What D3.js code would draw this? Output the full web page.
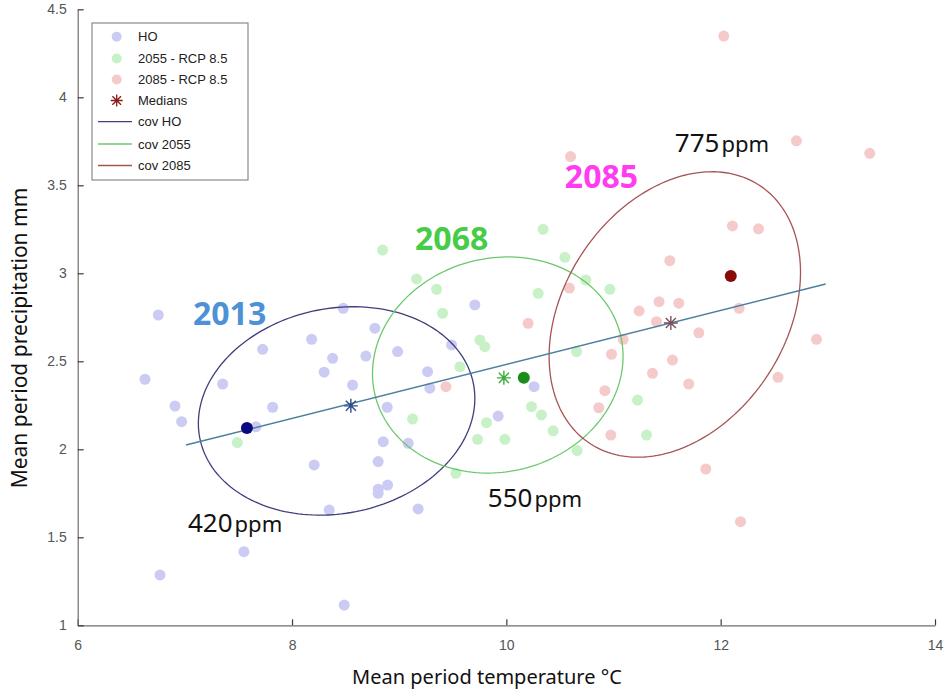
<!DOCTYPE html>
<html><head><meta charset="utf-8">
<script src="https://cdn.jsdelivr.net/npm/d3@7"></script>
<style>body{margin:0;background:#fff}svg{display:block}</style>
</head><body>
<svg id="c" width="949" height="691"></svg>
<script>
// ---------- data ----------
const xTicks = [6, 8, 10, 12, 14];
const yTicks = [1, 1.5, 2, 2.5, 3, 3.5, 4, 4.5];
const seriesNames = ["HO", "2055 - RCP 8.5", "2085 - RCP 8.5"];

const hoX = [6.752,8.478,9.706,8.183,7.726,8.379,8.689,8.985,9.489,6.628,7.353,8.300,8.565,9.265,9.286,6.908,7.819,6.970,7.663,8.888,8.851,9.084,8.207,8.804,8.804,8.892,8.804,8.347,9.177,7.551,6.768,8.487,8.773,10.259,9.924];
const hoY = [2.763,2.801,2.820,2.625,2.568,2.517,2.530,2.555,2.593,2.398,2.371,2.438,2.365,2.441,2.347,2.246,2.239,2.157,2.128,2.239,2.043,2.034,1.911,1.930,1.773,1.797,1.750,1.655,1.661,1.418,1.286,1.115,2.688,2.356,2.189];

const g55X = [8.845,10.343,10.546,9.162,9.349,10.297,10.742,10.966,9.405,9.753,9.799,10.655,9.566,11.224,9.125,10.235,10.328,9.815,10.437,9.731,9.986,10.660,9.529,7.489,11.308];
const g55Y = [3.132,3.250,3.091,2.968,2.909,2.886,2.962,2.909,2.773,2.621,2.583,2.555,2.469,2.280,2.172,2.242,2.195,2.151,2.105,2.057,2.057,1.993,1.864,2.038,2.081];

const g85X = [12.029,12.707,13.391,10.599,12.110,12.353,11.525,10.588,11.425,11.609,11.239,12.172,10.203,11.401,11.796,12.894,11.090,10.981,11.550,11.364,11.702,12.535,10.919,10.863,10.975,11.861,12.185,9.436];
const g85Y = [4.348,3.753,3.682,3.663,3.269,3.253,3.072,2.916,2.839,2.830,2.786,2.801,2.716,2.725,2.662,2.625,2.625,2.540,2.507,2.432,2.371,2.409,2.333,2.236,2.081,1.888,1.589,2.356];

// medians (asterisks) and means (filled dots)
const medianX = [8.549, 9.977, 11.535];
const medianY = [2.247, 2.406, 2.718];
const meanX = [7.579, 10.163, 12.094];
const meanY = [2.121, 2.406, 2.984];

// covariance ellipses: centre, spread, correlation
const covNames = ["cov HO", "cov 2055", "cov 2085"];
const covCX = [8.416, 9.92, 11.572];
const covCY = [2.218, 2.479, 2.766];
const covSX = [1.29, 1.169, 1.173];
const covSY = [0.592, 0.614, 0.811];
const covRho = [0.12, 0.08, 0.295];

// trend line
const trendX = [7.01, 12.98];
const trendY = [2.024, 2.939];

// annotations
const yearLabels = ["2013", "2068", "2085"];
const yearX = [7.076, 9.148, 10.546];
const yearY = [2.706, 3.133, 3.486];
const ppmLabels = ["420", "550", "775"];
const ppmX = [7.029, 9.827, 11.572];
const ppmY = [1.530, 1.672, 3.689];

// ---------- styles ----------
const pointColors = ["#cbcbf3", "#c8f1c8", "#f5caca"];
const ellipseColors = ["#3f3f7c", "#6cc86c", "#a65454"];
const medianColors = ["#2c4f8c", "#3daa3d", "#7c4e60"];
const meanColors = ["#0a0a80", "#1a8c1a", "#8a0a0a"];
const yearColors = ["#4d91d6", "#46cc46", "#ff3cf0"];

const svg = d3.select("#c");
svg.append("rect").attr("width", 949).attr("height", 691).attr("fill", "#fff");

const x = d3.scaleLinear().domain([6, 14]).range([77.7, 935]);
const y = d3.scaleLinear().domain([1, 4.5]).range([625.3, 9.3]);

// axes
const xa = svg.append("g").attr("transform", `translate(0,${y(1)})`)
  .call(d3.axisBottom(x).tickValues(xTicks).tickFormat(d3.format("d")).tickSizeInner(-6).tickSizeOuter(0).tickPadding(15));
const ya = svg.append("g").attr("transform", `translate(${x(6)},0)`)
  .call(d3.axisLeft(y).tickValues(yTicks).tickFormat(d => String(d)).tickSizeInner(-6).tickSizeOuter(0).tickPadding(11));
[xa, ya].forEach(a => {
  a.select(".domain").attr("stroke", "#6e6e6e").attr("stroke-width", 1.2);
  a.selectAll(".tick line").attr("stroke", "#3a3a3a").attr("stroke-width", 1.2);
  a.selectAll(".tick text").attr("fill", "#555").attr("font-family", "'Liberation Sans', Arial, sans-serif").attr("font-size", 14);
});

// axis titles
svg.append("text").attr("x", 487).attr("y", 684).attr("text-anchor", "middle")
  .attr("font-family", "'Noto Sans', sans-serif").attr("font-size", 20).attr("fill", "#111")
  .text("Mean period temperature °C");
svg.append("text").attr("transform", "translate(27,338) rotate(-90)").attr("text-anchor", "middle")
  .attr("font-family", "'Noto Sans', sans-serif").attr("font-size", 21).attr("fill", "#111")
  .text("Mean period precipitation mm");

// points
const groups = [[hoX, hoY], [g55X, g55Y], [g85X, g85Y]];
groups.forEach((g, i) => {
  svg.append("g").selectAll("circle").data(g[0].map((v, k) => [v, g[1][k]]))
    .join("circle").attr("cx", d => x(d[0])).attr("cy", d => y(d[1])).attr("r", 5.5)
    .attr("fill", pointColors[i]);
});

// ellipses
const line = d3.line().x(d => x(d[0])).y(d => y(d[1])).curve(d3.curveLinearClosed);
covCX.forEach((cx, i) => {
  const phi = Math.acos(covRho[i]);
  const pts = d3.range(0, 360, 2).map(a => {
    const t = a * Math.PI / 180;
    return [cx + covSX[i] * Math.cos(t), covCY[i] + covSY[i] * Math.cos(t - phi)];
  });
  svg.append("path").attr("d", line(pts)).attr("fill", "none")
    .attr("stroke", ellipseColors[i]).attr("stroke-width", 1.3);
});

// trend
svg.append("path").attr("d", d3.line().x(d => x(d[0])).y(d => y(d[1]))(trendX.map((v, k) => [v, trendY[k]])))
  .attr("stroke", "#4b7f9c").attr("stroke-width", 1.5).attr("fill", "none");

// asterisk symbol (+ and x)
const star8 = {
  draw(ctx, size) {
    const r = Math.sqrt(size) / 2, d = r * 0.72;
    ctx.moveTo(-r, 0); ctx.lineTo(r, 0);
    ctx.moveTo(0, -r); ctx.lineTo(0, r);
    ctx.moveTo(-d, -d); ctx.lineTo(d, d);
    ctx.moveTo(-d, d); ctx.lineTo(d, -d);
  }
};
medianX.forEach((mx, i) => {
  svg.append("path").attr("d", d3.symbol(star8, 196)())
    .attr("transform", `translate(${x(mx)},${y(medianY[i])})`)
    .attr("stroke", medianColors[i]).attr("stroke-width", 1.4).attr("fill", "none");
});
meanX.forEach((mx, i) => {
  svg.append("circle").attr("cx", x(mx)).attr("cy", y(meanY[i])).attr("r", 6).attr("fill", meanColors[i]);
});

// annotations
yearLabels.forEach((t, i) => {
  svg.append("text").attr("x", x(yearX[i])).attr("y", y(yearY[i]))
    .attr("font-family", "'Noto Sans', sans-serif").attr("font-weight", "bold").attr("font-size", 32)
    .attr("fill", yearColors[i]).text(t);
});
ppmLabels.forEach((t, i) => {
  const tx = svg.append("text").attr("x", x(ppmX[i])).attr("y", y(ppmY[i]))
    .attr("font-family", "'Noto Sans', sans-serif").attr("fill", "#111");
  tx.append("tspan").attr("font-size", 26).text(t);
  tx.append("tspan").attr("font-size", 22).attr("dx", 2).text("ppm");
});

// legend
const lg = svg.append("g");
lg.append("rect").attr("x", 92).attr("y", 23).attr("width", 156).attr("height", 157)
  .attr("fill", "#fff").attr("stroke", "#8a8a8a").attr("stroke-width", 1.2);
const legY = [36.7, 58.5, 79.5, 100.5, 121.7, 144, 165.5];
const legFont = "'Liberation Sans', Arial, sans-serif";
seriesNames.forEach((n, i) => {
  lg.append("circle").attr("cx", 116.7).attr("cy", legY[i]).attr("r", 5).attr("fill", pointColors[i]);
  lg.append("text").attr("x", 138).attr("y", legY[i]).attr("dy", "0.35em").attr("font-family", legFont)
    .attr("font-size", 13).attr("fill", "#222").text(n);
});
lg.append("path").attr("d", d3.symbol(star8, 144)()).attr("transform", `translate(116.7,${legY[3]})`)
  .attr("stroke", "#8b1a1a").attr("stroke-width", 1.3).attr("fill", "none");
lg.append("text").attr("x", 138).attr("y", legY[3]).attr("dy", "0.35em").attr("font-family", legFont)
  .attr("font-size", 13).attr("fill", "#222").text("Medians");
covNames.forEach((n, i) => {
  const yy = legY[4 + i];
  lg.append("line").attr("x1", 98).attr("x2", 132).attr("y1", yy).attr("y2", yy)
    .attr("stroke", ellipseColors[i]).attr("stroke-width", 1.3);
  lg.append("text").attr("x", 138).attr("y", yy).attr("dy", "0.35em").attr("font-family", legFont)
    .attr("font-size", 13).attr("fill", "#222").text(n);
});
</script>
</body></html>
